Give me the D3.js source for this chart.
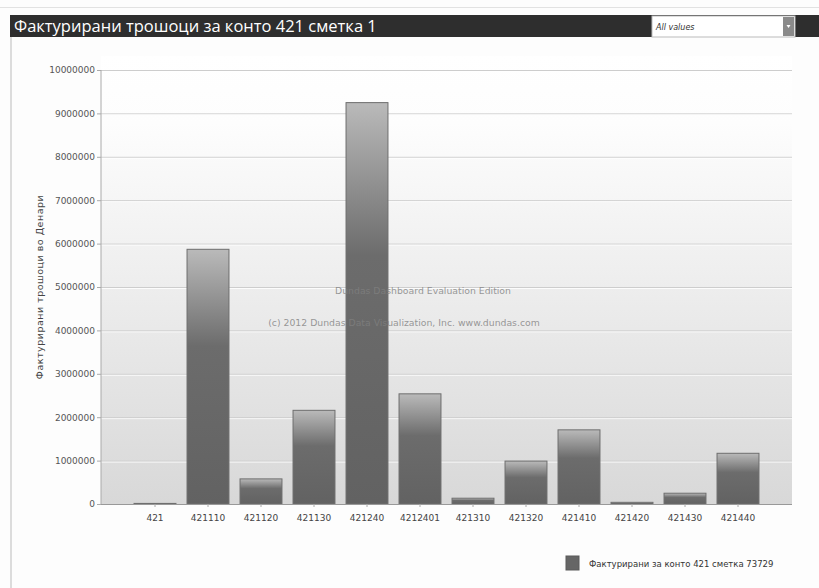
<!DOCTYPE html>
<html><head><meta charset="utf-8">
<script src="https://cdn.jsdelivr.net/npm/d3@7"></script>
<style>
html,body{margin:0;padding:0;background:#fdfdfd;}
svg{display:block;}
</style></head>
<body>
<script>
const categories = ["421","421110","421120","421130","421240","4212401","421310","421320","421410","421420","421430","421440"];
const values = [25000,5880000,590000,2170000,9260000,2550000,145000,1000000,1720000,50000,260000,1180000];
const yTicks = [0,1000000,2000000,3000000,4000000,5000000,6000000,7000000,8000000,9000000,10000000];
const titleText = "Фактурирани трошоци за конто 421 сметка 1";
const yAxisLabel = "Фактурирани трошоци во Денари";
const seriesName = "Фактурирани за конто 421 сметка 73729";
const watermark = ["Dundas Dashboard Evaluation Edition","(c) 2012 Dundas Data Visualization, Inc. www.dundas.com"];
const dropdownText = "All values";

(function(){
const W = 819, H = 588;
const svg = d3.select("body").append("svg").attr("width", W).attr("height", H);
const defs = svg.append("defs");

const bg = defs.append("linearGradient").attr("id","bgGrad").attr("x1",0).attr("y1",0).attr("x2",0).attr("y2",1);
bg.append("stop").attr("offset","0%").attr("stop-color","#ffffff");
bg.append("stop").attr("offset","15%").attr("stop-color","#fdfdfd");
bg.append("stop").attr("offset","100%").attr("stop-color","#d8d8d8");

const barG = defs.append("linearGradient").attr("id","barGrad").attr("x1",0).attr("y1",0).attr("x2",0).attr("y2",1);
barG.append("stop").attr("offset","0%").attr("stop-color","#bababa");
barG.append("stop").attr("offset","38%").attr("stop-color","#6c6c6c");
barG.append("stop").attr("offset","100%").attr("stop-color","#626262");

svg.append("line").attr("x1",0).attr("x2",W).attr("y1",7.5).attr("y2",7.5).attr("stroke","#e2e2e2");
svg.append("rect").attr("x",10).attr("y",36).attr("width",2).attr("height",H-36).attr("fill","#dcdcdc");

svg.append("rect").attr("x",10).attr("y",15).attr("width",W-10).attr("height",22).attr("fill","#2e2e2e");
svg.append("text").attr("x",14).attr("y",32).attr("fill","#ffffff")
  .style("font-family","'Open Sans', sans-serif").style("font-size","16.5px").text(titleText);

svg.append("rect").attr("x",652).attr("y",16).attr("width",143).attr("height",21).attr("fill","#ffffff").attr("stroke","#bbb");
svg.append("text").attr("x",656).attr("y",30).attr("fill","#333")
  .style("font-family","'DejaVu Sans', sans-serif").style("font-size","8px").style("font-style","italic").text(dropdownText);
svg.append("rect").attr("x",783).attr("y",17).attr("width",11).attr("height",19).attr("fill","#8a8a8a");
svg.append("path").attr("d","M786.5,25 L790.5,25 L788.5,28 Z").attr("fill","#fff");

const pLeft = 101, pRight = 792, pTop = 56, pBottom = 504;
const y = d3.scaleLinear().domain([0,10000000]).range([504,70]);
const step = 53;
const x = d3.scaleBand().domain(categories).range([102 + step/2, 102 + step/2 + step*categories.length]).paddingInner(0.19).paddingOuter(0.095);

svg.append("rect").attr("x",pLeft).attr("y",pTop).attr("width",pRight-pLeft).attr("height",pBottom-pTop).attr("fill","url(#bgGrad)");

const grid = svg.append("g");
yTicks.filter(d=>d>0).forEach(d=>{
  grid.append("line").attr("x1",pLeft).attr("x2",pRight).attr("y1",y(d)+0.5).attr("y2",y(d)+0.5).attr("stroke","#cdcdcd");
  grid.append("line").attr("x1",pLeft).attr("x2",pRight).attr("y1",y(d)+1.5).attr("y2",y(d)+1.5).attr("stroke","#ffffff").attr("stroke-opacity",0.8);
});

const yAxis = d3.axisLeft(y).tickValues(yTicks).tickSize(4).tickPadding(2).tickFormat(d3.format("d"));
const ya = svg.append("g").attr("transform",`translate(${pLeft},0)`).call(yAxis);
ya.select(".domain").attr("stroke","#aaaaaa").attr("d",`M0,70V504`);
ya.selectAll(".tick line").attr("stroke","#aaaaaa");
ya.selectAll("text").attr("fill","#555").style("font-family","'DejaVu Sans', sans-serif").style("font-size","9px");

svg.append("g").selectAll("rect").data(values).join("rect")
  .attr("x",(d,i)=>x(categories[i])+0.5)
  .attr("y",d=>y(d)+0.5)
  .attr("width",x.bandwidth()-1)
  .attr("height",d=>Math.max(0.5,y(0)-y(d)-0.5))
  .attr("fill","url(#barGrad)")
  .attr("stroke","#6e6e6e").attr("stroke-width",1);

const xAxis = d3.axisBottom(x).tickSize(3).tickPadding(8);
const xa = svg.append("g").attr("transform",`translate(0,${pBottom})`).call(xAxis);
xa.select(".domain").attr("stroke","#999").attr("d",`M${pLeft},0.5H${pRight}`);
xa.selectAll(".tick line").attr("stroke","#aaa");
xa.selectAll("text").attr("fill","#444").style("font-family","'DejaVu Sans', sans-serif").style("font-size","9px");

svg.append("text").attr("transform","translate(43,287) rotate(-90)").attr("text-anchor","middle")
  .attr("fill","#444").style("font-family","'DejaVu Sans', sans-serif").style("font-size","9.5px").style("letter-spacing","0.5px").text(yAxisLabel);

svg.append("text").attr("x",423).attr("y",294).attr("text-anchor","middle").attr("fill","#808080").attr("fill-opacity",0.8)
  .style("font-family","'DejaVu Sans', sans-serif").style("font-size","9.3px").text(watermark[0]);
svg.append("text").attr("x",404).attr("y",326).attr("text-anchor","middle").attr("fill","#808080").attr("fill-opacity",0.8)
  .style("font-family","'DejaVu Sans', sans-serif").style("font-size","9.3px").text(watermark[1]);

svg.append("rect").attr("x",566).attr("y",556).attr("width",13).attr("height",14).attr("fill","#666").attr("stroke","#5a5a5a");
svg.append("text").attr("x",589).attr("y",566.5).attr("fill","#333")
  .style("font-family","'DejaVu Sans', sans-serif").style("font-size","8.5px").text(seriesName);
})();
</script>
</body></html>
